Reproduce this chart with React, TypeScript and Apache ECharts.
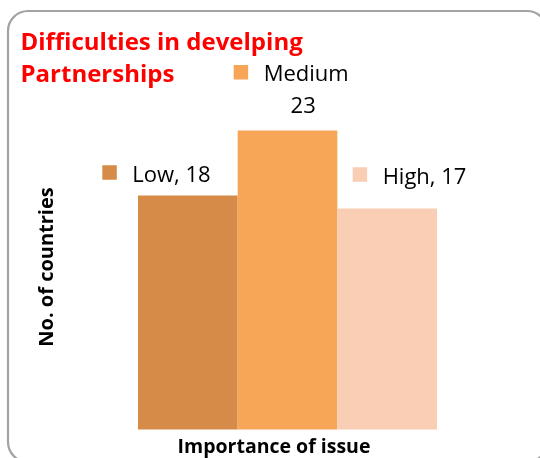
import React, { useEffect, useRef } from "react";
import * as echarts from "echarts";

const categories = ["Low", "Medium", "High"];
const values = [18, 23, 17];
const colors = ["#D78B48", "#F7A658", "#FACDB5"];
const titleLines = ["Difficulties in develping", "Partnerships"];
const yName = "No. of countries";
const xName = "Importance of issue";

export default function App() {
  const ref = useRef<HTMLDivElement>(null);
  useEffect(() => {
    if (!ref.current) return;
    const chart = echarts.init(ref.current, null, { renderer: "svg" });
    const font = "'Open Sans', sans-serif";
    const labelFor = (i: number) => {
      const rich: any = {
        m: { width: 14.5, height: 14.5, backgroundColor: colors[i] },
        t: { fontSize: 22, fontFamily: font, color: "#000", padding: [0, 0, 0, 15.5], lineHeight: 31.5 },
        v: { fontSize: 22, fontFamily: font, color: "#000", align: "center", padding: [0, 0, 0, 24], lineHeight: 31.5 },
      };
      if (i === 1) {
        return {
          show: true,
          position: [-4, -74],
          align: "left",
          verticalAlign: "top",
          formatter: `{m|}{t|${categories[i]}}\n{v|${values[i]}}`,
          rich,
        };
      }
      const pos = i === 0 ? [-35.7, -23] : [15.3, -34];
      return {
        show: true,
        position: pos,
        align: "left",
        verticalAlign: "middle",
        formatter: `{m|}{t|${categories[i]}, ${values[i]}}`,
        rich,
      };
    };
    chart.setOption({
      animation: false,
      title: {
        text: titleLines.join("\n"),
        left: 20.5,
        top: 24,
        padding: 0,
        textStyle: { color: "#FF0000", fontSize: 24, fontWeight: "bold", fontFamily: font, lineHeight: 32.3 },
      },
      graphic: [
        {
          type: "rect",
          shape: { x: 8, y: 11, width: 539, height: 451, r: 20 },
          style: { fill: "none", stroke: "#A3A3A3", lineWidth: 2.2 },
          silent: true,
        },
      ],
      grid: { left: 138, right: 103, top: 104.5, bottom: 28.5, outerBoundsMode: "none", containLabel: false },
      xAxis: {
        type: "category",
        data: categories,
        axisLine: { show: false },
        axisTick: { show: false },
        axisLabel: { show: false },
        name: xName,
        nameLocation: "middle",
        nameGap: 5.5,
        nameTextStyle: { fontSize: 19.5, fontWeight: "bold", fontFamily: font, color: "#000", lineHeight: 21, padding: [0, 27, 0, 0] },
      },
      yAxis: {
        type: "value",
        min: 0,
        max: 25,
        splitLine: { show: false },
        axisLine: { show: false },
        axisTick: { show: false },
        axisLabel: { show: false },
        name: yName,
        nameLocation: "middle",
        nameGap: 81.5,
        nameTextStyle: { fontSize: 20, fontWeight: "bold", fontFamily: font, color: "#000", lineHeight: 22 },
      },
      series: [
        {
          type: "bar",
          barWidth: "100%",
          barCategoryGap: 0,
          data: values.map((v, i) => ({
            value: v,
            itemStyle: { color: colors[i] },
            label: labelFor(i),
          })),
        },
      ],
    });
    return () => chart.dispose();
  }, []);
  return <div ref={ref} style={{ position: "fixed", left: 0, top: 0, width: 540, height: 458 }} />;
}
